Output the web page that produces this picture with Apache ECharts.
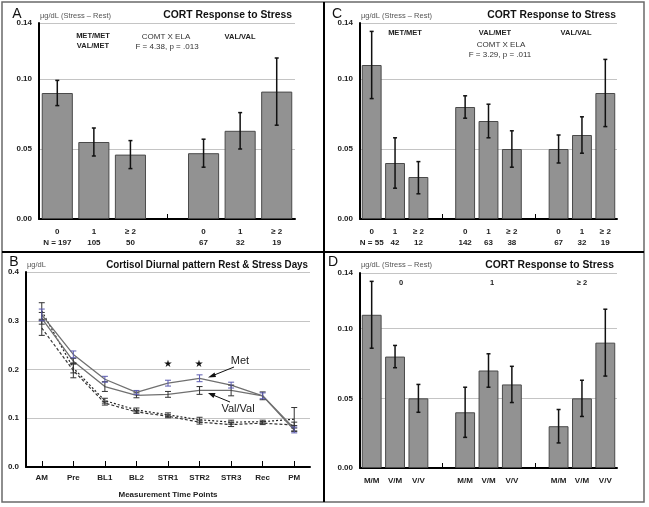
<!DOCTYPE html>
<html><head><meta charset="utf-8">
<script src="https://cdn.jsdelivr.net/npm/echarts@6/dist/echarts.min.js"></script>
<style>html,body{margin:0;padding:0;background:#fff}#c{width:649px;height:507px}</style>
</head><body><div id="c"></div>
<script>
// ---------- Panel A : COMT (MET carriers vs VAL/VAL) x ELA ----------
const catsA = ['0', '1', '≥ 2', '', '0', '1', '≥ 2'];
const nA = ['N = 197', '105', '50', '', '67', '32', '19'];
const meanA = [0.090, 0.055, 0.046, null, 0.047, 0.063, 0.091];
const lowA = [0.081, 0.045, 0.036, null, 0.037, 0.050, 0.067];
const highA = [0.099, 0.065, 0.056, null, 0.057, 0.076, 0.115];

// ---------- Panel C : three genotypes x ELA ----------
const catsC = ['0', '1', '≥ 2', '', '0', '1', '≥ 2', '', '0', '1', '≥ 2'];
const nC = ['N = 55', '42', '12', '', '142', '63', '38', '', '67', '32', '19'];
const meanC = [0.110, 0.040, 0.030, null, 0.080, 0.070, 0.050, null, 0.050, 0.060, 0.090];
const lowC = [0.086, 0.022, 0.018, null, 0.072, 0.058, 0.037, null, 0.040, 0.047, 0.066];
const highC = [0.134, 0.058, 0.041, null, 0.088, 0.082, 0.063, null, 0.060, 0.073, 0.114];

// ---------- Panel D : ELA groups x genotype ----------
const catsD = ['M/M', 'V/M', 'V/V', '', 'M/M', 'V/M', 'V/V', '', 'M/M', 'V/M', 'V/V'];
const meanD = [0.110, 0.080, 0.050, null, 0.040, 0.070, 0.060, null, 0.030, 0.050, 0.090];
const lowD = [0.086, 0.072, 0.040, null, 0.022, 0.058, 0.047, null, 0.018, 0.037, 0.066];
const highD = [0.134, 0.088, 0.060, null, 0.058, 0.082, 0.073, null, 0.042, 0.063, 0.114];

// ---------- Panel B : diurnal pattern ----------
const timesB = ['AM', 'Pre', 'BL1', 'BL2', 'STR1', 'STR2', 'STR3', 'Rec', 'PM'];
const metStress = [0.312, 0.231, 0.180, 0.153, 0.172, 0.182, 0.168, 0.146, 0.076];
const metStressErr = [0.012, 0.007, 0.006, 0.004, 0.006, 0.007, 0.006, 0.006, 0.006];
const valStress = [0.305, 0.217, 0.165, 0.147, 0.149, 0.157, 0.157, 0.146, 0.079];
const valStressErr = [0.012, 0.006, 0.010, 0.005, 0.006, 0.008, 0.011, 0.008, 0.006];
const metRest = [0.320, 0.203, 0.136, 0.117, 0.107, 0.097, 0.092, 0.093, 0.098];
const metRestErr = [0.017, 0.010, 0.005, 0.004, 0.004, 0.005, 0.004, 0.003, 0.024];
const valRest = [0.285, 0.198, 0.131, 0.113, 0.104, 0.092, 0.087, 0.090, 0.086];
const valRestErr = [0.015, 0.015, 0.004, 0.003, 0.003, 0.004, 0.004, 0.003, 0.006];

// ---------- helpers ----------
const FONT = 'Liberation Sans, Arial, sans-serif';
const lab = {fontFamily: FONT, fontWeight: 'bold', fontSize: 8, color: '#222'};

function errRender(color, cap, width) {
  return function (params, api) {
    const x = api.value(0);
    const lo = api.coord([x, api.value(1)]);
    const hi = api.coord([x, api.value(2)]);
    const st = {stroke: color, lineWidth: width};
    return {type: 'group', children: [
      {type: 'line', shape: {x1: lo[0], y1: lo[1], x2: hi[0], y2: hi[1]}, style: st},
      {type: 'line', shape: {x1: lo[0] - cap, y1: lo[1], x2: lo[0] + cap, y2: lo[1]}, style: st},
      {type: 'line', shape: {x1: hi[0] - cap, y1: hi[1], x2: hi[0] + cap, y2: hi[1]}, style: st}
    ]};
  };
}
function barErrData(mean, low, high) {
  const out = [];
  mean.forEach((m, i) => { if (m != null) out.push([i, low[i], high[i]]); });
  return out;
}
function lineErrData(mean, err) { return mean.map((m, i) => [i, m - err[i], m + err[i]]); }

function barX(gi, cats, nrow) {
  return {
    type: 'category', gridIndex: gi, data: cats,
    axisLine: {lineStyle: {color: '#000', width: 2}},
    axisTick: {show: true, inside: true, length: 5, alignWithLabel: true,
      interval: (i) => cats[i] === '', lineStyle: {color: '#000', width: 1}},
    axisLabel: Object.assign({interval: 0, margin: 7, lineHeight: 11,
      formatter: (v, i) => nrow ? v + '\n' + nrow[i] : v}, lab)
  };
}
function barY(gi) {
  return {
    type: 'value', gridIndex: gi, min: 0, max: 0.14, interval: 0.05,
    axisLine: {show: true, lineStyle: {color: '#000', width: 2}},
    axisTick: {show: false},
    splitLine: {lineStyle: {color: '#c4c4c4', width: 1}},
    axisLabel: Object.assign({formatter: (v) => v.toFixed(2), margin: 7}, lab)
  };
}
const barStyle = {color: '#929292', borderColor: '#4a4a4a', borderWidth: 1};
function barSeries(ai, mean) {
  return {type: 'bar', xAxisIndex: ai, yAxisIndex: ai, data: mean, barWidth: '85%',
    itemStyle: barStyle, silent: true, animation: false};
}
function errSeries(ai, data, color, cap, width) {
  return {type: 'custom', xAxisIndex: ai, yAxisIndex: ai, data: data, z: 5,
    encode: {x: 0, y: [1, 2]}, renderItem: errRender(color, cap, width), silent: true, animation: false};
}
function lineSeries(data, color, type, width) {
  return {type: 'line', xAxisIndex: 2, yAxisIndex: 2, data: data, showSymbol: false, symbol: 'none',
    lineStyle: {color: color, type: type, width: width}, silent: true, animation: false};
}

// ---------- text / decoration (layout only) ----------
function txt(x, y, s, o) {
  return Object.assign({type: 'text', x: x, y: y, silent: true, z: 20,
    style: Object.assign({text: s, fill: '#222', font: '8px ' + FONT, textAlign: 'center', textVerticalAlign: 'middle'}, (o && o.style) || {})},
    o ? {scaleX: o.scaleX || 1} : {});
}
const bold7 = {style: {font: 'bold 7.5px ' + FONT}};
const unitStyle = {style: {font: '7.5px ' + FONT, fill: '#555', textAlign: 'left'}};
const graphics = [
  {type: 'rect', shape: {x: 2, y: 2, width: 642, height: 500}, style: {fill: 'none', stroke: '#6a6a6a', lineWidth: 1.5}, silent: true},
  {type: 'line', shape: {x1: 324, y1: 2, x2: 324, y2: 502}, style: {stroke: '#000', lineWidth: 2}, silent: true},
  {type: 'line', shape: {x1: 2, y1: 252, x2: 644, y2: 252}, style: {stroke: '#000', lineWidth: 2}, silent: true},
  // panel letters
  txt(17, 14, 'A', {style: {font: '14px ' + FONT, fill: '#111'}}),
  txt(337, 14, 'C', {style: {font: '14px ' + FONT, fill: '#111'}}),
  txt(14, 262, 'B', {style: {font: '14px ' + FONT, fill: '#111'}}),
  txt(333, 262, 'D', {style: {font: '14px ' + FONT, fill: '#111'}}),
  // units
  txt(40, 16, 'µg/dL (Stress – Rest)', unitStyle),
  txt(361, 16, 'µg/dL (Stress – Rest)', unitStyle),
  txt(27, 265, 'µg/dL', unitStyle),
  txt(361, 265, 'µg/dL (Stress – Rest)', unitStyle),
  // titles
  txt(292, 15, 'CORT Response to Stress', {scaleX: 0.94, style: {font: 'bold 11px ' + FONT, fill: '#111', textAlign: 'right'}}),
  txt(616, 15, 'CORT Response to Stress', {scaleX: 0.94, style: {font: 'bold 11px ' + FONT, fill: '#111', textAlign: 'right'}}),
  txt(308, 265, 'Cortisol Diurnal pattern Rest & Stress Days', {scaleX: 0.89, style: {font: 'bold 11px ' + FONT, fill: '#111', textAlign: 'right'}}),
  txt(614, 265, 'CORT Response to Stress', {scaleX: 0.94, style: {font: 'bold 11px ' + FONT, fill: '#111', textAlign: 'right'}}),
  // panel A annotations
  txt(93, 36, 'MET/MET', bold7), txt(93, 46, 'VAL/MET', bold7),
  txt(166, 37, 'COMT X ELA', {style: {font: '8px ' + FONT, fill: '#333'}}),
  txt(167, 47, 'F = 4.38, p = .013', {style: {font: '8px ' + FONT, fill: '#333'}}),
  txt(240, 37, 'VAL/VAL', bold7),
  // panel C annotations
  txt(405, 33, 'MET/MET', bold7), txt(495, 33, 'VAL/MET', bold7), txt(576, 33, 'VAL/VAL', bold7),
  txt(501, 45, 'COMT X ELA', {style: {font: '8px ' + FONT, fill: '#333'}}),
  txt(500, 55, 'F = 3.29, p = .011', {style: {font: '8px ' + FONT, fill: '#333'}}),
  // panel D annotations
  txt(401, 283, '0', bold7), txt(492, 283, '1', bold7), txt(582, 283, '≥ 2', bold7),
  // panel B annotations
  txt(168, 364, '★', {style: {font: '10px DejaVu Sans', fill: '#111'}}),
  txt(199, 364, '★', {style: {font: '10px DejaVu Sans', fill: '#111'}}),
  txt(240, 361, 'Met', {style: {font: '11px ' + FONT, fill: '#222'}}),
  txt(238, 409, 'Val/Val', {style: {font: '11px ' + FONT, fill: '#222'}}),
  {type: 'line', shape: {x1: 234, y1: 367, x2: 213, y2: 375.5}, style: {stroke: '#111', lineWidth: 1}, silent: true, z: 20},
  {type: 'polygon', shape: {points: [[208, 377.5], [214.5, 372.5], [216, 377]]}, style: {fill: '#111'}, silent: true, z: 20},
  {type: 'line', shape: {x1: 230, y1: 402, x2: 213, y2: 395}, style: {stroke: '#111', lineWidth: 1}, silent: true, z: 20},
  {type: 'polygon', shape: {points: [[208, 393], [215.5, 393], [213.5, 398]]}, style: {fill: '#111'}, silent: true, z: 20}
];

const option = {
  backgroundColor: '#fff',
  animation: false,
  grid: [
    {left: 39, top: 23, width: 256, height: 196},
    {left: 360, top: 23, width: 257, height: 196},
    {left: 26, top: 272, width: 284, height: 195},
    {left: 360, top: 273, width: 257, height: 195}
  ],
  xAxis: [
    barX(0, catsA, nA),
    barX(1, catsC, nC),
    {type: 'category', gridIndex: 2, data: timesB, boundaryGap: true,
      axisLine: {lineStyle: {color: '#000', width: 2}},
      axisTick: {show: true, inside: true, length: 6, alignWithLabel: true, lineStyle: {color: '#000', width: 1}},
      axisLabel: Object.assign({interval: 0, margin: 7}, lab),
      name: 'Measurement Time Points', nameLocation: 'middle', nameGap: 24,
      nameTextStyle: {fontFamily: FONT, fontWeight: 'bold', fontSize: 8, color: '#222'}},
    barX(3, catsD, null)
  ],
  yAxis: [
    barY(0), barY(1),
    {type: 'value', gridIndex: 2, min: 0, max: 0.4, interval: 0.1,
      axisLine: {show: true, lineStyle: {color: '#000', width: 2}},
      axisTick: {show: false},
      splitLine: {lineStyle: {color: '#c4c4c4', width: 1}},
      axisLabel: Object.assign({formatter: (v) => v.toFixed(1), margin: 7}, lab)},
    barY(3)
  ],
  series: [
    barSeries(0, meanA), errSeries(0, barErrData(meanA, lowA, highA), '#111', 2, 1.5),
    barSeries(1, meanC), errSeries(1, barErrData(meanC, lowC, highC), '#111', 2, 1.5),
    barSeries(3, meanD), errSeries(3, barErrData(meanD, lowD, highD), '#111', 2, 1.5),
    lineSeries(metRest, '#222', [2, 2], 1.2),
    lineSeries(valRest, '#333', [3, 2], 1.2),
    lineSeries(metStress, '#707070', 'solid', 1.3),
    lineSeries(valStress, '#707070', 'solid', 1.3),
    errSeries(2, lineErrData(metRest, metRestErr), '#333', 3, 1),
    errSeries(2, lineErrData(valRest, valRestErr), '#333', 3, 1),
    errSeries(2, lineErrData(valStress, valStressErr), '#333', 3, 1),
    errSeries(2, lineErrData(metStress, metStressErr), '#5b5bb0', 3, 1)
  ],
  graphic: graphics
};
const chart = echarts.init(document.getElementById('c'), null, {renderer: 'canvas'});
chart.setOption(option);
</script></body></html>
